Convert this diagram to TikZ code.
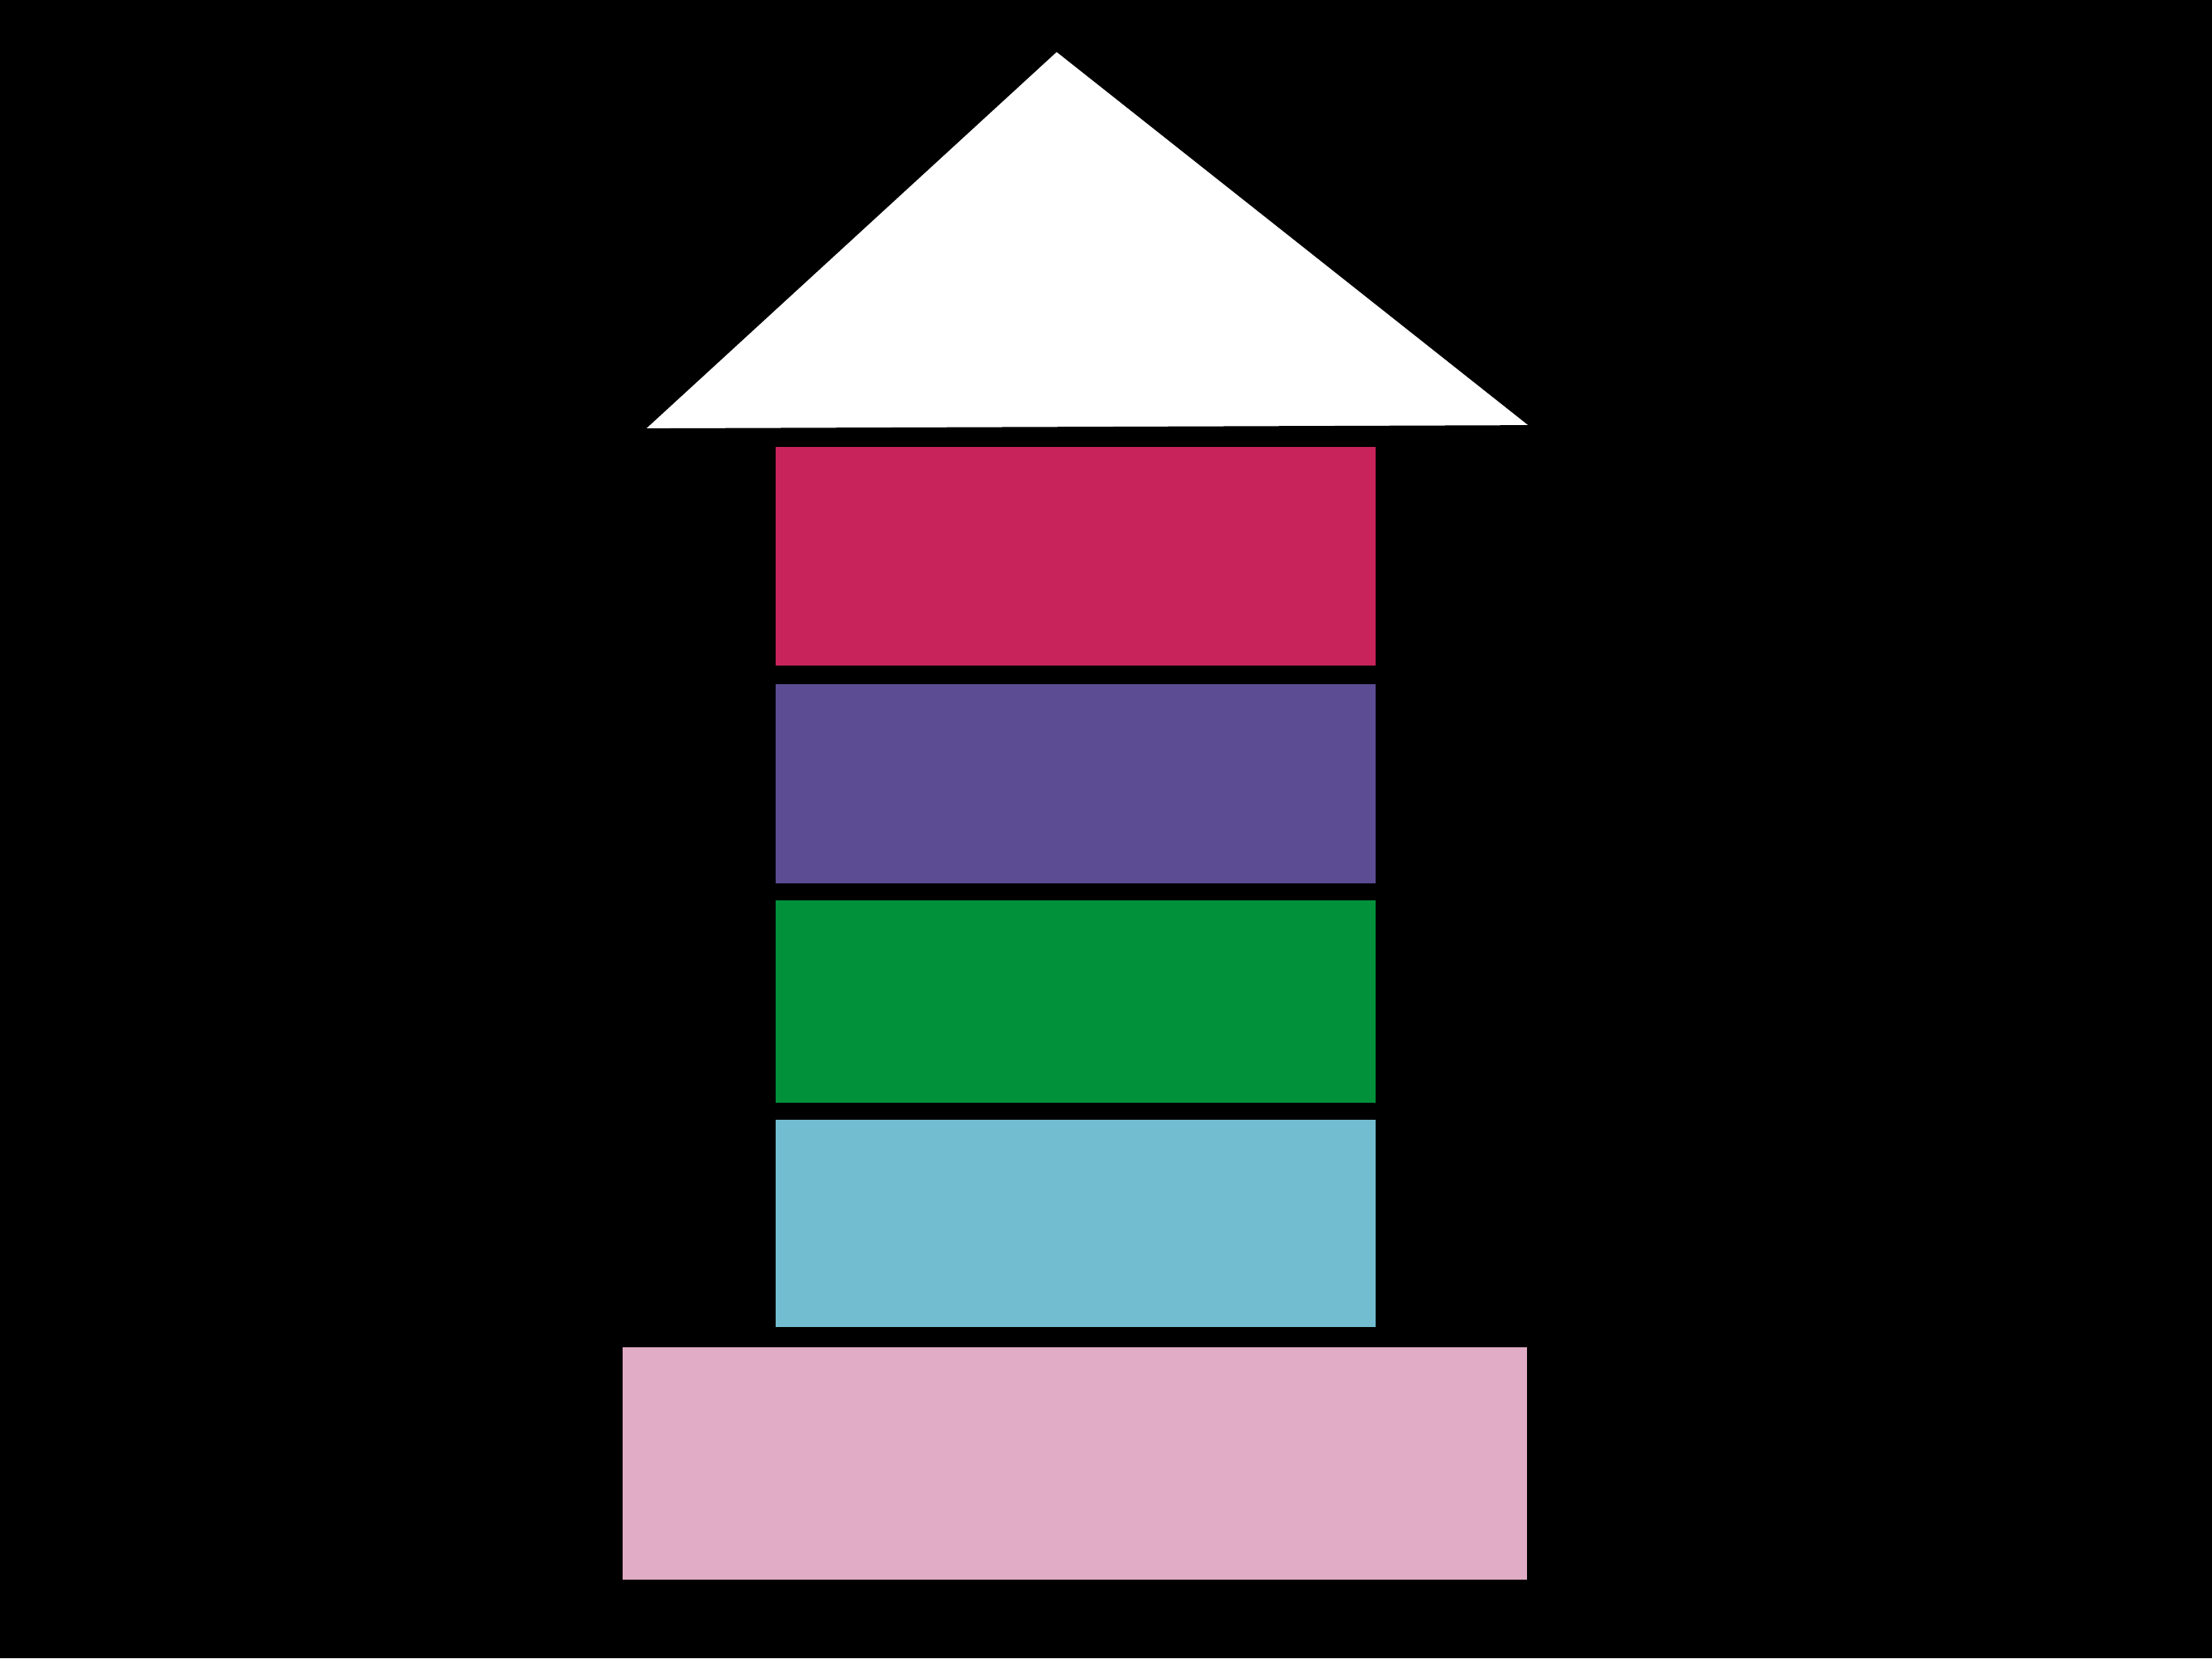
\documentclass[tikz,border=0pt]{standalone}
\usepackage{tikz}
\usetikzlibrary{positioning,calc}

\definecolor{blockred}{RGB}{200,35,90}
\definecolor{blockpurple}{RGB}{91,76,148}
\definecolor{blockgreen}{RGB}{0,145,58}
\definecolor{blockteal}{RGB}{114,189,207}
\definecolor{blockpink}{RGB}{225,172,197}

\begin{document}
\begin{tikzpicture}[
  layer/.style={draw=black, line width=0.5pt, minimum width=7.43cm, inner sep=0pt},
  roof/.style={fill=white, draw=black, line width=0.5pt}
]
  \useasboundingbox[fill=black] (0,0) rectangle (27.32,20.48);

  % roof
  \coordinate (roofL) at (7.96,15.18);
  \coordinate (roofT) at (13.05,19.85);
  \coordinate (roofR) at (18.90,15.22);
  \draw[roof] (roofL) -- (roofT) -- (roofR) -- cycle;

  % stack of layers
  \node[layer, fill=blockred, minimum height=2.72cm] (red) at (13.285,13.61) {};
  \node[layer, fill=blockpurple, minimum height=2.48cm] (purple) at (13.285,10.80) {};
  \node[layer, fill=blockgreen, minimum height=2.52cm] (green) at (13.285,8.11) {};
  \node[layer, fill=blockteal, minimum height=2.58cm] (teal) at (13.285,5.37) {};

  % base
  \node[layer, fill=blockpink, minimum width=11.19cm, minimum height=2.89cm] (base) at (13.275,2.405) {};
\end{tikzpicture}
\end{document}
